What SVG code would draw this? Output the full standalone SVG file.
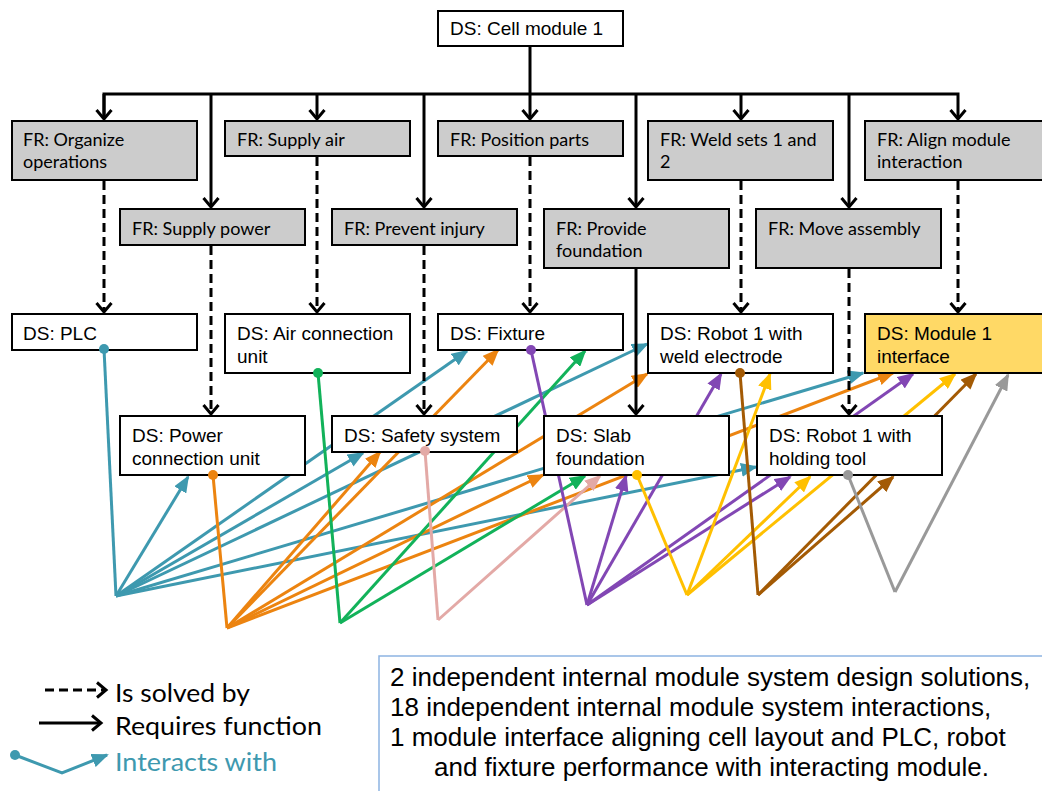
<svg xmlns="http://www.w3.org/2000/svg" width="1042" height="791" viewBox="0 0 1042 791">
  <style>
    .fr rect { fill: #cccccc; stroke: #000; stroke-width: 2; }
    .ds rect { fill: #ffffff; stroke: #000; stroke-width: 2; }
    .ds.iface rect { fill: #ffd966; }
    .fr text { font-family: Lato, "Open Sans", sans-serif; font-size: 18px; fill: #000; }
    .ds text { font-family: "Liberation Sans", Arial, sans-serif; font-size: 19px; fill: #000; }
    .req { fill: none; stroke: #000; stroke-width: 3; }
    .sol { fill: none; stroke: #000; stroke-width: 3; stroke-dasharray: 9 5; }
    .ia { fill: none; stroke-width: 3; }
    .teal { stroke: #3e99af; }
    .orange { stroke: #ec8410; }
    .green { stroke: #12b25a; }
    .pink { stroke: #e3a9a6; }
    .purple { stroke: #8247b4; }
    .yellow { stroke: #ffc000; }
    .brown { stroke: #a35a04; }
    .gray { stroke: #999999; }
    .legend { font-family: Lato, "Open Sans", sans-serif; font-size: 25px; }
    .note { font-family: "Liberation Sans", Arial, sans-serif; font-size: 26px; fill: #000; }
  </style>
  <defs>
    <marker id="chev" markerUnits="userSpaceOnUse" markerWidth="24" markerHeight="24" viewBox="-12 -12 24 24" refX="0" refY="0" orient="auto">
      <path d="M-9,-7.5 L0,0 L-9,7.5" fill="none" stroke="#000" stroke-width="3" stroke-dasharray="none"/>
    </marker>
    <marker id="a-teal" markerUnits="userSpaceOnUse" markerWidth="17" markerHeight="14" viewBox="0 0 17 14" refX="15" refY="7" orient="auto"><path d="M0,0 L17,7 L0,14 z" fill="#3e99af"/></marker>
    <marker id="a-orange" markerUnits="userSpaceOnUse" markerWidth="17" markerHeight="14" viewBox="0 0 17 14" refX="15" refY="7" orient="auto"><path d="M0,0 L17,7 L0,14 z" fill="#ec8410"/></marker>
    <marker id="a-green" markerUnits="userSpaceOnUse" markerWidth="17" markerHeight="14" viewBox="0 0 17 14" refX="15" refY="7" orient="auto"><path d="M0,0 L17,7 L0,14 z" fill="#12b25a"/></marker>
    <marker id="a-pink" markerUnits="userSpaceOnUse" markerWidth="17" markerHeight="14" viewBox="0 0 17 14" refX="15" refY="7" orient="auto"><path d="M0,0 L17,7 L0,14 z" fill="#e3a9a6"/></marker>
    <marker id="a-purple" markerUnits="userSpaceOnUse" markerWidth="17" markerHeight="14" viewBox="0 0 17 14" refX="15" refY="7" orient="auto"><path d="M0,0 L17,7 L0,14 z" fill="#8247b4"/></marker>
    <marker id="a-yellow" markerUnits="userSpaceOnUse" markerWidth="17" markerHeight="14" viewBox="0 0 17 14" refX="15" refY="7" orient="auto"><path d="M0,0 L17,7 L0,14 z" fill="#ffc000"/></marker>
    <marker id="a-brown" markerUnits="userSpaceOnUse" markerWidth="17" markerHeight="14" viewBox="0 0 17 14" refX="15" refY="7" orient="auto"><path d="M0,0 L17,7 L0,14 z" fill="#a35a04"/></marker>
    <marker id="a-gray" markerUnits="userSpaceOnUse" markerWidth="17" markerHeight="14" viewBox="0 0 17 14" refX="15" refY="7" orient="auto"><path d="M0,0 L17,7 L0,14 z" fill="#999999"/></marker>
  </defs>

  <rect width="1042" height="791" fill="#ffffff"/>

  <!-- connectors -->
  <g id="connectors">
    <!-- interactions: source dot -> bend point -> targets -->
    <g id="ia-plc" class="ia teal">
      <path d="M104,349 L116,596"/>
      <path d="M116,596 L188,477" marker-end="url(#a-teal)"/>
      <path d="M116,596 L467,351" marker-end="url(#a-teal)"/>
      <path d="M116,596 L363,453" marker-end="url(#a-teal)"/>
      <path d="M116,596 L647,344" marker-end="url(#a-teal)"/>
      <path d="M116,596 L863,373" marker-end="url(#a-teal)"/>
      <path d="M116,596 L756,467" marker-end="url(#a-teal)"/>
    </g>
    <g id="ia-power" class="ia orange">
      <path d="M213,475 L227,628"/>
      <path d="M227,628 L380,452" marker-end="url(#a-orange)"/>
      <path d="M227,628 L498,350" marker-end="url(#a-orange)"/>
      <path d="M227,628 L647,374" marker-end="url(#a-orange)"/>
      <path d="M227,628 L543,475" marker-end="url(#a-orange)"/>
      <path d="M227,628 L893,373" marker-end="url(#a-orange)"/>
    </g>
    <g id="ia-air" class="ia green">
      <path d="M318,373 L340,623"/>
      <path d="M340,623 L585,351" marker-end="url(#a-green)"/>
      <path d="M340,623 L585,476" marker-end="url(#a-green)"/>
    </g>
    <g id="ia-safety" class="ia pink">
      <path d="M425,451 L438,620"/>
      <path d="M438,620 L600,476" marker-end="url(#a-pink)"/>
    </g>
    <g id="ia-fixture" class="ia purple">
      <path d="M531,350 L587,605"/>
      <path d="M587,605 L626,476" marker-end="url(#a-purple)"/>
      <path d="M587,605 L721,374" marker-end="url(#a-purple)"/>
      <path d="M587,605 L790,477" marker-end="url(#a-purple)"/>
      <path d="M587,605 L913,374" marker-end="url(#a-purple)"/>
    </g>
    <g id="ia-slab" class="ia yellow">
      <path d="M637,475 L687,595"/>
      <path d="M687,595 L770,374" marker-end="url(#a-yellow)"/>
      <path d="M687,595 L810,477" marker-end="url(#a-yellow)"/>
      <path d="M687,595 L955,374" marker-end="url(#a-yellow)"/>
    </g>
    <g id="ia-weld" class="ia brown">
      <path d="M740,373 L758,595"/>
      <path d="M758,595 L893,477" marker-end="url(#a-brown)"/>
      <path d="M758,595 L976,374" marker-end="url(#a-brown)"/>
    </g>
    <g id="ia-holding" class="ia gray">
      <path d="M848,475 L895,592"/>
      <path d="M895,592 L1008,375" marker-end="url(#a-gray)"/>
    </g>

    <!-- requires function -->
    <g id="requires">
      <path class="req" d="M530,46 V94"/>
      <path class="req" d="M104,119 V94 H958 V119" marker-end="url(#chev)"/>
      <path class="req" d="M104,94 V119" marker-end="url(#chev)"/>
      <path class="req" d="M317,94 V119" marker-end="url(#chev)"/>
      <path class="req" d="M530,94 V119" marker-end="url(#chev)"/>
      <path class="req" d="M741,94 V119" marker-end="url(#chev)"/>
      <path class="req" d="M211,94 V207" marker-end="url(#chev)"/>
      <path class="req" d="M424,94 V207" marker-end="url(#chev)"/>
      <path class="req" d="M636,94 V207" marker-end="url(#chev)"/>
      <path class="req" d="M849,94 V207" marker-end="url(#chev)"/>
      <path class="req" d="M636,268 V414" marker-end="url(#chev)"/>
    </g>
    <!-- is solved by -->
    <g id="solved">
      <path class="sol" d="M104,181 V312" marker-end="url(#chev)"/>
      <path class="sol" d="M317,157 V312" marker-end="url(#chev)"/>
      <path class="sol" d="M530,157 V312" marker-end="url(#chev)"/>
      <path class="sol" d="M741,181 V312" marker-end="url(#chev)"/>
      <path class="sol" d="M958,181 V312" marker-end="url(#chev)"/>
      <path class="sol" d="M211,246 V414" marker-end="url(#chev)"/>
      <path class="sol" d="M424,246 V414" marker-end="url(#chev)"/>
      <path class="sol" d="M849,269 V414" marker-end="url(#chev)"/>
    </g>
  </g>

  <!-- nodes -->
  <g id="ds-cell" class="ds"><rect x="438" y="11" width="185" height="35"/><text x="450" y="35">DS: Cell module 1</text></g>

  <g id="fr-organize" class="fr"><rect x="12" y="121" width="185" height="59"/><text x="23" y="146">FR: Organize</text><text x="23" y="168">operations</text></g>
  <g id="fr-air" class="fr"><rect x="225" y="121" width="185" height="35"/><text x="237" y="146">FR: Supply air</text></g>
  <g id="fr-position" class="fr"><rect x="438" y="121" width="185" height="35"/><text x="450" y="146">FR: Position parts</text></g>
  <g id="fr-weld" class="fr"><rect x="648" y="121" width="185" height="59"/><text x="660" y="146">FR: Weld sets 1 and</text><text x="660" y="168">2</text></g>
  <g id="fr-align" class="fr"><rect x="865" y="121" width="190" height="59"/><text x="877" y="146">FR: Align module</text><text x="877" y="168">interaction</text></g>
  <g id="fr-power" class="fr"><rect x="120" y="209" width="185" height="36"/><text x="132" y="235">FR: Supply power</text></g>
  <g id="fr-injury" class="fr"><rect x="332" y="209" width="185" height="36"/><text x="344" y="235">FR: Prevent injury</text></g>
  <g id="fr-foundation" class="fr"><rect x="544" y="209" width="185" height="59"/><text x="556" y="235">FR: Provide</text><text x="556" y="257">foundation</text></g>
  <g id="fr-move" class="fr"><rect x="756" y="209" width="185" height="59"/><text x="768" y="235">FR: Move assembly</text></g>

  <g id="ds-plc" class="ds"><rect x="12" y="314" width="185" height="36"/><text x="23" y="340">DS: PLC</text></g>
  <g id="ds-air" class="ds"><rect x="225" y="314" width="185" height="59"/><text x="237" y="340">DS: Air connection</text><text x="237" y="363">unit</text></g>
  <g id="ds-fixture" class="ds"><rect x="438" y="314" width="185" height="36"/><text x="450" y="340">DS: Fixture</text></g>
  <g id="ds-weld" class="ds"><rect x="648" y="314" width="185" height="59"/><text x="660" y="340">DS: Robot 1 with</text><text x="660" y="363">weld electrode</text></g>
  <g id="ds-interface" class="ds iface"><rect x="865" y="314" width="190" height="59"/><text x="877" y="340">DS: Module 1</text><text x="877" y="363">interface</text></g>
  <g id="ds-power" class="ds"><rect x="120" y="416" width="185" height="59"/><text x="132" y="442">DS: Power</text><text x="132" y="465">connection unit</text></g>
  <g id="ds-safety" class="ds"><rect x="332" y="416" width="185" height="36"/><text x="344" y="442">DS: Safety system</text></g>
  <g id="ds-slab" class="ds"><rect x="544" y="416" width="185" height="59"/><text x="556" y="442">DS: Slab</text><text x="556" y="465">foundation</text></g>
  <g id="ds-holding" class="ds"><rect x="757" y="416" width="185" height="59"/><text x="769" y="442">DS: Robot 1 with</text><text x="769" y="465">holding tool</text></g>

  <!-- interaction start points on the source boxes -->
  <g id="ports">
    <circle cx="104" cy="349" r="5" fill="#3e99af"/>
    <circle cx="213" cy="475" r="5" fill="#ec8410"/>
    <circle cx="318" cy="373" r="5" fill="#12b25a"/>
    <circle cx="425" cy="451" r="5" fill="#e3a9a6"/>
    <circle cx="531" cy="350" r="5" fill="#8247b4"/>
    <circle cx="637" cy="475" r="5" fill="#ffc000"/>
    <circle cx="740" cy="373" r="5" fill="#a35a04"/>
    <circle cx="848" cy="475" r="5" fill="#999999"/>
  </g>

  <!-- legend -->
  <g id="legend">
    <path class="sol" d="M45,690 H106" marker-end="url(#chev)"/>
    <text class="legend" x="115" y="702" textLength="135" lengthAdjust="spacingAndGlyphs">Is solved by</text>
    <path class="req" d="M39,723 H101" marker-end="url(#chev)"/>
    <text class="legend" x="115" y="735" textLength="207" lengthAdjust="spacingAndGlyphs">Requires function</text>
    <circle cx="15" cy="755" r="5" fill="#3e99af"/>
    <path class="ia teal" d="M15,755 L62,773 L107,755" marker-end="url(#a-teal)"/>
    <text class="legend" x="115" y="771" fill="#3e99af" textLength="162" lengthAdjust="spacingAndGlyphs">Interacts with</text>
  </g>

  <!-- summary box -->
  <g id="summary">
    <rect x="379" y="656" width="700" height="160" fill="none" stroke="#8db4e2" stroke-width="1.5"/>
    <text class="note" x="390" y="686">2 independent internal module system design solutions,</text>
    <text class="note" x="390" y="716">18 independent internal module system interactions,</text>
    <text class="note" x="390" y="746">1 module interface aligning cell layout and PLC, robot</text>
    <text class="note" x="434" y="776">and fixture performance with interacting module.</text>
  </g>
</svg>
